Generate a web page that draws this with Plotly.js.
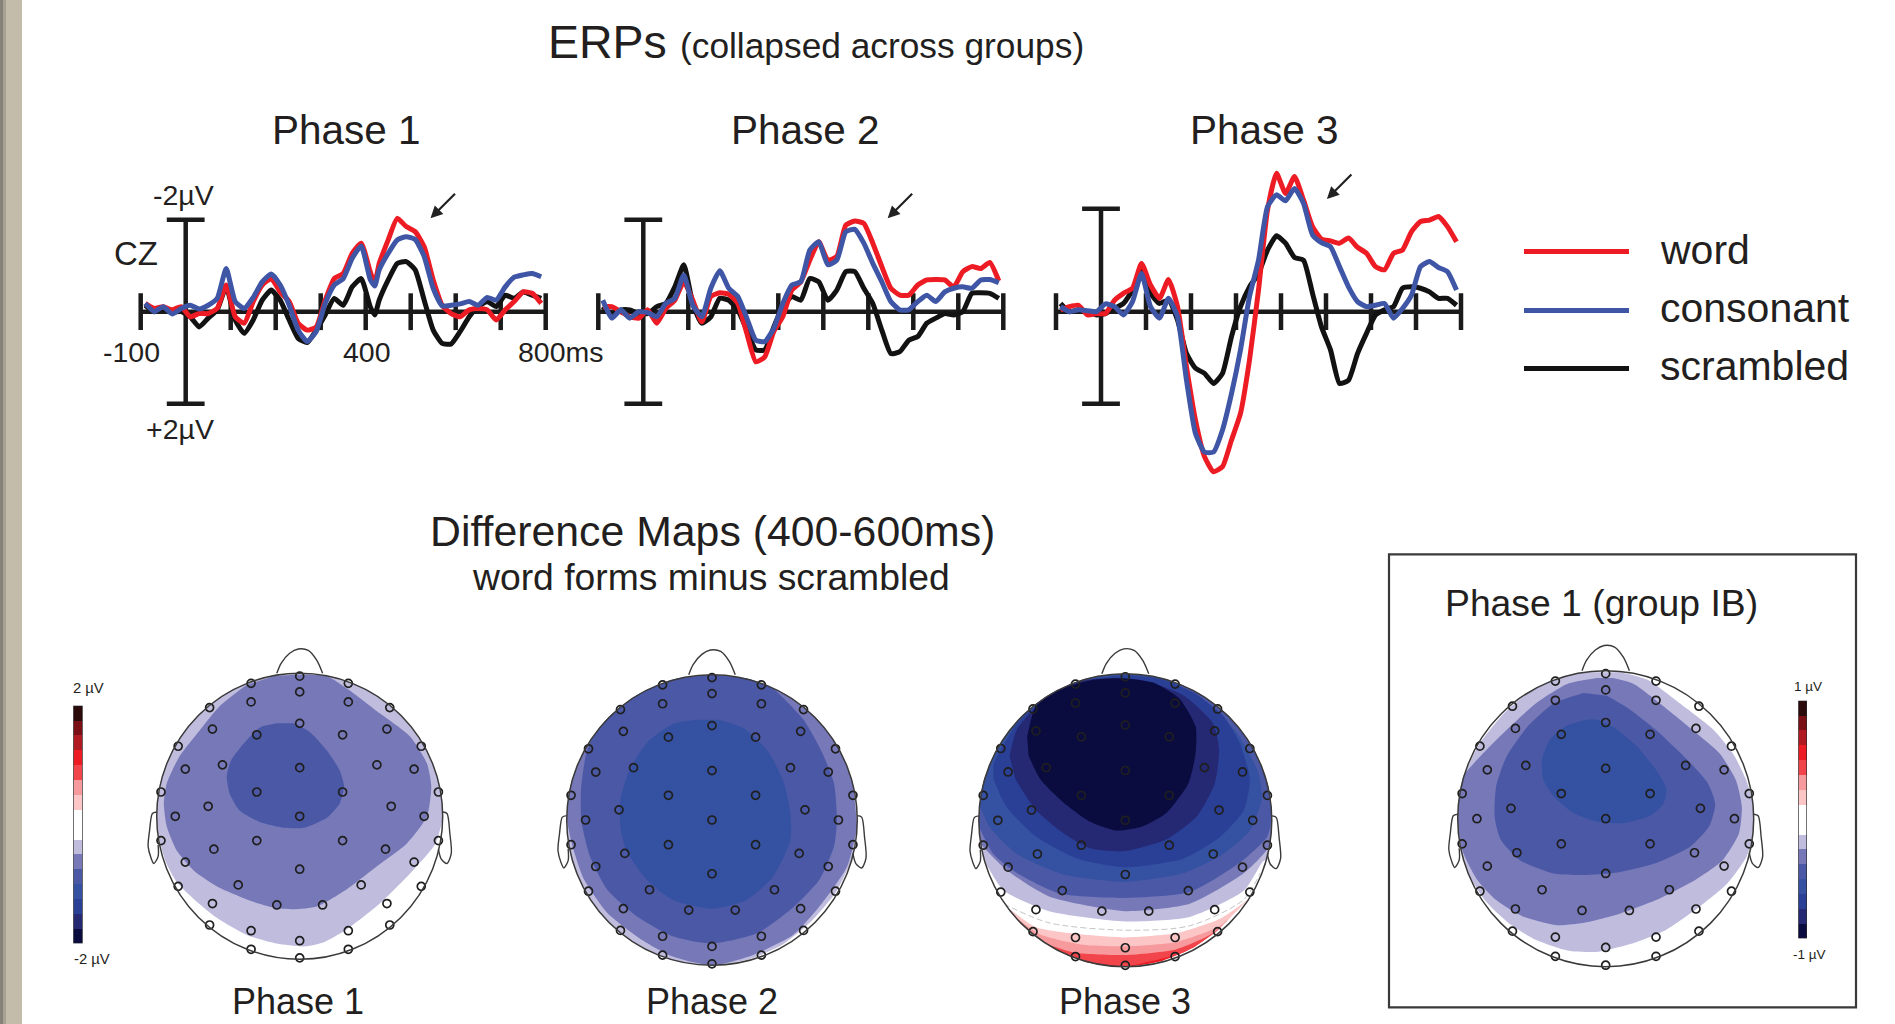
<!DOCTYPE html>
<html><head><meta charset="utf-8">
<script src="https://cdn.plot.ly/plotly-3.0.1.min.js"></script>
<style>html,body{margin:0;padding:0;background:#fff;overflow:hidden}#chart{width:1895px;height:1024px}</style>
</head><body><div id="chart"></div>
<script>
// ---------- ERP data: time in ms, amplitude in microvolts (negative plotted up) ----------
const seriesNames = ['word','consonant','scrambled'];
const tP1 = [-90,-70,-50,-30,-10,10,30,50,70,90,110,130,150,170,190,210,230,250,270,290,310,330,350,370,390,410,420,430,450,470,490,510,530,550,570,590,610,630,650,670,690,710,730,750,770,790];
const tRest = [-90,-70,-50,-30,-10,10,30,50,70,90,110,130,150,170,190,210,230,250,270,290,310,330,350,370,390,410,430,450,470,490,510,530,550,570,590,610,630,650,670,690,710,730,750,770,790];
const wordP1 = [-.18,-.07,-.11,-.04,-.11,.11,.04,.04,-.07,-.58,.11,.25,-.22,-.58,-.72,-.43,-.22,.25,.40,.33,-.25,-.72,-.83,-1.27,-1.49,-.87,-.62,-1.05,-1.56,-2.03,-1.85,-1.74,-1.41,-.69,-.14,.04,.11,-.04,-.07,-.04,.18,-.04,-.22,-.43,-.40,-.18];
const consP1 = [-.18,0,-.11,.05,-.07,-.14,-.06,-.14,-.29,-.94,-.22,-.07,-.31,-.65,-.82,-.58,-.14,.40,.65,.43,-.18,-.58,-.72,-1.16,-1.43,-.70,-.56,-.91,-1.27,-1.56,-1.63,-1.57,-1.20,-.51,-.13,-.14,-.17,-.22,-.14,-.31,-.25,-.54,-.75,-.80,-.83,-.76];
const scrP1 = [-.14,0,-.07,0,0,.11,.33,.14,-.04,-.54,.18,.47,.18,-.25,-.47,-.25,.18,.58,.67,.40,.07,-.29,-.14,-.54,-.72,-.11,.07,-.25,-.69,-1.05,-1.09,-.91,-.25,.40,.69,.70,.43,.11,-.11,-.22,-.11,-.36,-.29,-.43,-.36,-.29];
const wordP2 = [-.11,-.11,0,.11,.14,-.04,.25,-.07,-.25,-.65,-.25,.22,-.33,-.41,-.38,-.18,.47,1.09,.98,.43,.11,-.47,-.65,-1.12,-1.52,-1.12,-1.20,-1.88,-1.97,-1.92,-1.49,-.98,-.51,-.36,-.36,-.58,-.69,-.70,-.69,-.54,-.87,-.98,-.94,-1.07,-.67];
const consP2 = [-.25,.14,-.04,.14,0,.02,.11,-.18,-.29,-.80,-.14,.11,-.51,-.89,-.51,-.33,.14,.62,.65,.36,-.18,-.58,-.65,-1.34,-1.52,-1.02,-1.12,-1.74,-1.79,-1.49,-1.05,-.65,-.22,-.04,-.04,-.22,-.36,-.22,-.43,-.51,-.54,-.51,-.69,-.70,-.63];
const scrP2 = [-.11,.07,-.04,-.04,.04,.04,-.11,-.18,-.54,-1.02,-.18,.25,.11,-.29,-.25,-.04,.40,.83,.83,.33,-.11,-.33,-.25,-.72,-.65,-.25,-.47,-.87,-.87,-.51,-.18,.40,.91,.87,.62,.54,.25,.14,.04,.07,0,-.40,-.41,-.40,-.29];
const wordP3 = [-.04,-.11,-.14,.07,.04,.04,-.25,-.40,-.51,-1.05,-.58,-.29,-.70,-.11,1.20,2.36,3.15,3.48,3.37,2.79,2.21,1.05,-.47,-2.21,-3.01,-2.57,-2.94,-2.43,-1.85,-1.58,-1.54,-1.49,-1.60,-1.40,-1.27,-.98,-.91,-1.27,-1.34,-1.74,-1.96,-1.99,-2.07,-1.85,-1.52];
const consP3 = [-.11,0,-.04,-.02,0,-.17,-.11,.07,-.22,-.83,-.11,.14,-.29,.11,1.49,2.65,3.05,3.05,2.57,1.78,.83,-.33,-1.12,-2.28,-2.54,-2.41,-2.68,-2.36,-1.67,-1.50,-1.41,-.98,-.54,-.22,-.11,-.14,-.18,.14,-.07,-.36,-.98,-1.09,-.96,-.87,-.47];
const scrP3 = [-.18,0,-.04,0,.07,.04,-.07,-.18,-.47,-.94,-.40,-.18,-.25,.18,.91,1.23,1.34,1.56,1.34,.54,-.11,-.54,-.83,-1.34,-1.65,-1.49,-1.18,-1.12,-.40,.33,.83,1.56,1.49,.91,.47,.07,-.04,-.11,-.51,-.54,-.51,-.43,-.29,-.29,-.14];
const tickMs = [-100,100,200,300,400,500,600,700,800];

// ---------- Scalp map data: head radius = 100 units ----------
const eegX = [0,-34,34,0,-34,34,-63,63,0,-61,61,-30,30,-85,85,-54,54,0,-80,80,-97,97,-30,30,-64,64,-87,87,0,-97,97,-30,30,-60,60,-80,80,0,-43,43,-85,85,-61,61,-16,16,-63,63,-34,34,0,-34,34,0];
const eegY = [98,93,93,87,80,80,76,76,65,61,61,57,57,49,49,36,36,34,33,33,17,17,17,17,7,7,0,0,0,-17,-17,-17,-17,-23,-23,-32,-32,-37,-48,-48,-49,-49,-61,-61,-62,-62,-76,-76,-80,-80,-87,-93,-93,-99];
const noseX = [-16,-13,-7,-1,6,12,16];
const noseY = [100,107,114,117,116,109,100];
const earLX = [-100,-103,-105,-106,-104,-102,-99,-99];
const earLY = [3,2,-10,-21,-29,-33,-28,-20];
const earRX = [100,103,105,106,103,99,97];
const earRY = [3,2,-12,-26,-33,-30,-23];
const rimX = [26,50,71,87,97,100,97,87,71,50,26,0,-26,-50,-71,-87,-97,-100,-97,-87,-71,-50,-26];
const rimY = [-97,-87,-71,-50,-26,0,26,50,71,87,97,100,97,87,71,50,26,0,-26,-50,-71,-87,-97];
const maskOuterX = [0,-85,-120,-85,0,85,120,85,0];
const maskOuterY = [-120,-85,0,85,120,85,0,-85,-120];

const LAV='#c0bcdd',MID='#7678b8',DK='#4b58a6',DK2='#3552a2',DK3='#2a3f96',DK4='#252873',NAVY='#0a0b3f';
const PK1='#fcc6c7',PK2='#f79a9d',RD1='#f2454b',RD0='#ed1c24';

const h1LavX=[0,26,50,71,87,97,100,95,79,56,33,17,3,-16,-37,-58,-74,-86,-94,-99,-100,-97,-87,-71,-50,-26];
const h1LavY=[100,97,87,71,50,26,0,-19,-38,-61,-79,-88,-91,-89,-83,-71,-58,-46,-31,-12,0,26,50,71,87,97];
const h1MidX=[-37,-56,-70,-84,-93,-95,-93,-86,-74,-56,-32,-18,-4,12,33,54,75,89,92,89,77,56,35,19,0,-18];
const h1MidY=[92,77,60,42,23,9,-7,-24,-38,-50,-60,-64,-65,-63,-51,-35,-19,0,21,37,56,72,88,98,99,98];
const h1DkX=[-16,-28,-39,-48,-51,-49,-42,-28,-11,3,19,28,31,28,19,7,-4];
const h1DkY=[65,62,51,39,28,16,4,-4,-8,-8,-1,9,21,32,46,59,65];

const h2LavX=[100,97,87,71,50,26,0,-26,-50,-71,-87,-97,-100,-97,-87,-71,-50,-26,0,25,48,68,85,97];
const h2LavY=[0,26,50,71,87,97,100,97,87,71,50,26,0,-26,-50,-71,-87,-97,-100,-96,-86,-70,-50,-26];
const h2MidX=[97,87,71,50,26,0,-26,-50,-71,-87,-97,-100,-96,-88,-72,-49,-27,0,28,56,76,93,100];
const h2MidY=[26,50,71,87,97,100,97,87,71,50,26,3,-18,-41,-64,-82,-94,-100,-93,-79,-57,-32,-5];
const h2DkX=[0,26,33,40,63,76,84,86,84,74,56,31,0,-27,-52,-72,-84,-90,-90,-86,-80,-71,-50,-26];
const h2DkY=[100,97,94,92,69,46,25,0,-18,-41,-60,-78,-85,-80,-66,-48,-25,0,23,48,60,71,87,97];
const h2Dk2X=[-11,-27,-45,-57,-63,-63,-59,-45,-27,0,24,42,54,54,49,38,22,5];
const h2Dk2Y=[69,66,53,34,14,-5,-21,-41,-55,-61,-55,-39,-14,5,27,48,63,69];

// Phase 3: level boundaries running left to right, closed over the top of the head
const h3RedX=[0,40,62,75], h3RedY=[-100,-90,-76,-62];
const h3Pk2X=[-63,-36,0,35,60,76], h3Pk2Y=[-81,-90,-92,-88,-77,-61];
const h3Pk1X=[-75,-58,-29,0,35,65,81], h3Pk1Y=[-66,-78,-85,-86,-83,-72,-57];
const h3WhiteX=[-81,-61,-29,0,35,65,86], h3WhiteY=[-59,-73,-78,-80,-77,-67,-52];
const h3LavX=[-96,-83,-52,0,44,81,94], h3LavY=[-28,-48,-62,-69,-66,-48,-28];
const h3MidX=[-99,-81,-52,0,44,81,98], h3MidY=[-16,-34,-52,-62,-57,-36,-18];
const h3DkX=[-100,-90,-74,-45,0,44,78,97,100], h3DkY=[-4,-23,-36,-50,-53,-49,-29,-11,5];
const h3Dk2X=[-100,-93,-74,-42,0,40,67,85,93,91,76,53,31], h3Dk2Y=[12,-4,-23,-37,-42,-36,-23,-7,14,32,60,82,95];
const h3Dk3X=[-90,-74,-52,-29,0,26,47,67,78,85,81,65,40,0,-33,-61,-81,-90];
const h3Dk3Y=[39,66,85,95,99,96,87,71,53,28,7,-11,-26,-32,-26,-11,9,28];
const h3Dk4X=[-79,-74,-58,-36,-10,17,40,60,64,61,49,28,0,-24,-42,-61,-75];
const h3Dk4Y=[44,62,80,94,97,94,85,66,48,25,3,-13,-21,-19,-9,7,28];
const h3NavyX=[-67,-61,-45,-22,-1,19,37,48,48,43,28,12,-6,-24,-42,-58,-66];
const h3NavyY=[57,78,89,96,97,94,83,64,46,25,5,-4,-7,-1,12,28,44];
const h3ContourX=[-83,-52,0,44,81,92];
const h3ContourY=[-57,-70,-75,-72,-54,-36];

const h4LavX=[10,28,50,73,86,95,100,100,95,82,64,41,19,-6,-26,-47,-65,-80,-92,-98,-100,-98,-85,-67,-44,-22];
const h4LavY=[99,94,78,60,44,26,8,-10,-26,-44,-59,-75,-84,-90,-89,-82,-71,-57,-39,-21,-1,24,51,73,91,99];
const h4MidX=[-6,-26,-47,-67,-83,-98,-100,-97,-87,-74,-56,-33,-13,10,34,61,79,90,92,88,77,61,39,19,5];
const h4MidY=[95,91,78,60,44,26,-1,-21,-41,-55,-66,-72,-70,-64,-55,-41,-28,-10,8,26,44,58,76,91,95];
const h4DkX=[-15,-35,-53,-67,-74,-75,-71,-58,-35,-13,10,34,57,70,74,69,55,34,16,1];
const h4DkY=[85,78,62,42,22,1,-14,-28,-37,-38,-36,-30,-19,-5,10,24,40,60,74,83];
const h4Dk2X=[-12,-26,-38,-43,-42,-35,-22,-6,12,30,39,41,34,21,5,-6];
const h4Dk2Y=[67,63,53,40,26,15,4,-2,-3,2,10,20,33,49,62,67];

// Colour-bar levels, bottom to top
const barColors=[NAVY,DK4,DK3,DK2,DK,MID,LAV,'#ffffff','#ffffff',PK1,PK2,RD1,RD0,'#b01a20','#7a1015','#2a0a0a'];
const barLevels=[0,1,2,3,4,5,6,7,8,9,10,11,12,13,14,15];
const barCentres=[-.9375,-.8125,-.6875,-.5625,-.4375,-.3125,-.1875,-.0625,.0625,.1875,.3125,.4375,.5625,.6875,.8125,.9375];

// ---------- Layout helpers ----------
const W=1895,H=1024;
const dx=(a,b)=>[a/W,b/W];
const dy=(top,bot)=>[1-bot/H,1-top/H];
const PXMS=.45,PXUV=46,ZERO_Y=311.7;
const layout={width:W,height:H,margin:{l:0,r:0,t:0,b:0,pad:0},paper_bgcolor:'#fff',plot_bgcolor:'rgba(0,0,0,0)',showlegend:false,shapes:[],annotations:[]};
const traces=[];
const hid={visible:false,fixedrange:true,showgrid:false,zeroline:false};
function addAxes(n,xd,yd,xr,yr){
  const s=n===1?'':n;
  layout['xaxis'+s]=Object.assign({},hid,{domain:xd,range:xr,anchor:'y'+s});
  layout['yaxis'+s]=Object.assign({},hid,{domain:yd,range:yr,anchor:'x'+s});
}
const txt=(x,y,text,size,anchor)=>{
  layout.annotations.push({xref:'paper',yref:'paper',x:x/W,y:1-y/H,text:text,showarrow:false,xanchor:anchor||'center',yanchor:'middle',font:{family:'"Liberation Sans",Arial,sans-serif',size:size,color:'#231f20'}});
};

// ---------- ERP panels ----------
const erpCol={word:'#ed1c24',consonant:'#3f55a5',scrambled:'#121212'};
const panels=[
 {n:1,zero:185.7,t:tP1,word:wordP1,cons:consP1,scr:scrP1,barTop:-2,arrowMs:544,arrowUv:-2.03},
 {n:2,zero:643.3,t:tRest,word:wordP2,cons:consP2,scr:scrP2,barTop:-2,arrowMs:543,arrowUv:-2.03},
 {n:3,zero:1101,t:tRest,word:wordP3,cons:consP3,scr:scrP3,barTop:-2.24,arrowMs:502,arrowUv:-2.45}
];
panels.forEach(p=>{
  const xr=[-125,825], top=150, bot=490;
  addAxes(p.n,dx(p.zero+xr[0]*PXMS,p.zero+xr[1]*PXMS),dy(top,bot),xr,[(bot-ZERO_Y)/PXUV,(top-ZERO_Y)/PXUV]);
  const s=p.n===1?'':p.n, ax={xaxis:'x'+s,yaxis:'y'+s,hoverinfo:'skip',cliponaxis:false};
  const axisLine={color:'#1a1a1a',width:4.5};
  const tx=[],ty=[];
  tickMs.forEach(t=>{tx.push(t,t,null);ty.push(-.4,.4,null);});
  traces.push(Object.assign({type:'scatter',mode:'lines',x:[-100,800],y:[0,0],line:axisLine},ax));
  traces.push(Object.assign({type:'scatter',mode:'lines',x:tx,y:ty,line:axisLine},ax));
  traces.push(Object.assign({type:'scatter',mode:'lines',x:[0,0,null,-42,42,null,-42,42],y:[p.barTop,2,null,p.barTop,p.barTop,null,2,2],line:axisLine},ax));
  [['scrambled',p.scr],['word',p.word],['consonant',p.cons]].forEach(([name,v])=>{
    traces.push(Object.assign({type:'scatter',mode:'lines',name:name,x:p.t,y:v,line:{color:erpCol[name],width:5,shape:'spline',smoothing:.5}},ax));
  });
  layout.annotations.push({xref:'x'+s,yref:'y'+s,x:p.arrowMs,y:p.arrowUv,ax:26,ay:-26,text:'',showarrow:true,arrowhead:2,arrowsize:1.1,arrowwidth:2.2,arrowcolor:'#222'});
});

// ---------- Scalp maps ----------
const mapCfg=[
 {n:4,cx:299.7,cy:816.3,r:143},
 {n:5,cx:712,cy:820,r:145.3},
 {n:6,cx:1125.3,cy:820.3,r:146.5},
 {n:7,cx:1605.7,cy:818.7,r:148}
];
function closeOverTop(cx,cy){
  const yl=cy[0],yr=cy[cy.length-1];
  const xs=cx.slice(),ys=cy.slice();
  rimX.forEach((x,i)=>{const y=rimY[i];if(x>=0?y>yr:y>yl){xs.push(x);ys.push(y);}});
  return [xs,ys];
}
const regions={
 4:[[h1LavX,h1LavY,LAV],[h1MidX,h1MidY,MID],[h1DkX,h1DkY,DK]],
 5:[[h2LavX,h2LavY,LAV],[h2MidX,h2MidY,MID],[h2DkX,h2DkY,DK],[h2Dk2X,h2Dk2Y,DK2]],
 6:[[h2LavX,h2LavY,RD0],
    [...closeOverTop(h3RedX,h3RedY),RD1],
    [...closeOverTop(h3Pk2X,h3Pk2Y),PK2],
    [...closeOverTop(h3Pk1X,h3Pk1Y),PK1],
    [...closeOverTop(h3WhiteX,h3WhiteY),'#ffffff'],
    [...closeOverTop(h3LavX,h3LavY),LAV],
    [...closeOverTop(h3MidX,h3MidY),MID],
    [...closeOverTop(h3DkX,h3DkY),DK],
    [...closeOverTop(h3Dk2X,h3Dk2Y),DK2],
    [h3Dk3X,h3Dk3Y,DK3],[h3Dk4X,h3Dk4Y,DK4],[h3NavyX,h3NavyY,NAVY]],
 7:[[h4LavX,h4LavY,LAV],[h4MidX,h4MidY,MID],[h4DkX,h4DkY,DK],[h4Dk2X,h4Dk2Y,DK2]]
};
mapCfg.forEach(m=>{
  const R=130,u=m.r/100;
  addAxes(m.n,dx(m.cx-R*u,m.cx+R*u),dy(m.cy-R*u,m.cy+R*u),[-R,R],[-R,R]);
  const ax={xaxis:'x'+m.n,yaxis:'y'+m.n,hoverinfo:'skip'};
  regions[m.n].forEach(([x,y,c])=>{
    traces.push(Object.assign({type:'scatter',mode:'lines',x:x,y:y,fill:'toself',fillcolor:c,line:{width:0,color:c,shape:'spline',smoothing:.6}},ax));
  });
  if(m.n===6) traces.push(Object.assign({type:'scatter',mode:'lines',x:h3ContourX,y:h3ContourY,line:{color:'#c4c4c4',width:1,dash:'6px,3px',shape:'spline',smoothing:.8}},ax));
  // white ring that trims the filled levels to the scalp outline
  const ringX=rimX.concat([0,26],[null],maskOuterX), ringY=rimY.concat([-100,-97],[null],maskOuterY);
  traces.push(Object.assign({type:'scatter',mode:'lines',x:ringX,y:ringY,fill:'toself',fillcolor:'#ffffff',line:{width:0,color:'#fff',shape:'spline',smoothing:.9}},ax));
  const outline={color:'#3a3a3a',width:1.4,shape:'spline',smoothing:.8};
  [[noseX,noseY],[earLX,earLY],[earRX,earRY]].forEach(([x,y])=>traces.push(Object.assign({type:'scatter',mode:'lines',x:x,y:y,line:outline},ax)));
  layout.shapes.push({type:'circle',xref:'x'+m.n,yref:'y'+m.n,x0:-100,x1:100,y0:-100,y1:100,line:{color:'#3a3a3a',width:1.5},layer:'above'});
  traces.push(Object.assign({type:'scatter',mode:'markers',x:eegX,y:eegY,marker:{symbol:'circle-open',size:8,color:'#1f1f1f',line:{width:1.7,color:'#1f1f1f'}}},ax));
});

// ---------- Colour bars ----------
const scale=[];
barColors.forEach((c,i)=>{scale.push([i/16,c]);scale.push([(i+1)/16,c]);});
[[8,73.3,82.7,705.7,943.3],[9,1798.3,1807,700.7,938.3]].forEach(([n,a,b,t,u])=>{
  addAxes(n,dx(a,b),dy(t,u),[-.5,.5],[-1,1]);
  traces.push({type:'heatmap',xaxis:'x'+n,yaxis:'y'+n,x:[0],y:barCentres,z:barLevels.map(v=>[v]),zmin:-.5,zmax:15.5,colorscale:scale,showscale:false,hoverinfo:'skip'});
  layout.shapes.push({type:'rect',xref:'x'+n,yref:'y'+n,x0:-.5,x1:.5,y0:-1,y1:1,line:{color:'#2a2a2a',width:1.3},layer:'above'});
});

// ---------- Page furniture ----------
layout.shapes.push(
 {type:'rect',xref:'paper',yref:'paper',x0:0,x1:22/W,y0:0,y1:1,fillcolor:'#c4bcaa',line:{width:0},layer:'below'},
 {type:'rect',xref:'paper',yref:'paper',x0:0,x1:3/W,y0:0,y1:1,fillcolor:'#85827a',line:{width:0},layer:'below'},
 {type:'rect',xref:'paper',yref:'paper',x0:3/W,x1:6/W,y0:0,y1:1,fillcolor:'#a8a294',line:{width:0},layer:'below'},
 {type:'rect',xref:'paper',yref:'paper',x0:1389/W,x1:1856/W,y0:1-1007.3/H,y1:1-554.3/H,line:{color:'#3a3a3a',width:2.2},fillcolor:'rgba(0,0,0,0)'}
);
const legendY=[251.4,310.6,368.6],legendTextY=[250,308,366],legendCol=[erpCol.word,erpCol.consonant,erpCol.scrambled];
seriesNames.forEach((n,i)=>{
  layout.shapes.push({type:'line',xref:'paper',yref:'paper',x0:1524/W,x1:1629/W,y0:1-legendY[i]/H,y1:1-legendY[i]/H,line:{color:legendCol[i],width:5}});
  txt(1658,legendTextY[i],n,41,'left');
});
txt(607,41.5,'ERPs',46.5);
txt(881.6,45,'(collapsed across groups)',35.3);
txt(346,130,'Phase 1',40.5);txt(805.5,130,'Phase 2',40.5);txt(1264,130,'Phase 3',40.5);
txt(183.7,195,'-2µV',28.5);txt(180,429,'+2µV',28.5);txt(135.5,253.3,'CZ',33);
txt(131.3,352,'-100',28.5);txt(367.3,352,'400',28.5);txt(560.7,352,'800ms',28.5);
txt(712.4,531,'Difference Maps (400-600ms)',42.8);
txt(711,577,'word forms minus scrambled',37.3);
txt(298,1001.5,'Phase 1',36);txt(712,1001.5,'Phase 2',36);txt(1125,1001.5,'Phase 3',36);
txt(1601.3,603,'Phase 1 (group IB)',37.3);
txt(88.7,688,'2 µV',14.8);txt(91.7,959,'-2 µV',14.8);
txt(1807.7,686,'1 µV',13.5);txt(1809.3,954,'-1 µV',13.5);

Plotly.newPlot('chart',traces,layout,{staticPlot:true,displayModeBar:false});
</script></body></html>
